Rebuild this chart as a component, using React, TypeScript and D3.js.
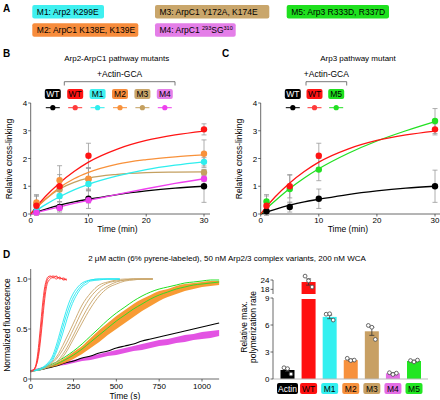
import React from 'react';
import * as d3 from 'd3';

const FONT = '"Liberation Sans", Arial, Helvetica, sans-serif';

// ---------- Panel A ----------
const mutantNames = ['M1', 'M2', 'M3', 'M4', 'M5'];
const mutantDesc = ['Arp2 K299E', 'ArpC1 K138E, K139E', 'ArpC1 Y172A, K174E', 'ArpC1 ', 'Arp3 R333D, R337D'];
const mutantBoxColors = ['#3ff0f0', '#f78c3c', '#c9a66b', '#e47ee8', '#1ee01e'];
const boxLayout = [
  { x: 32.3, y: 5, w: 71.7 },
  { x: 32.3, y: 23.3, w: 106 },
  { x: 155, y: 5, w: 114.3 },
  { x: 155, y: 23.3, w: 80.7 },
  { x: 286.7, y: 5, w: 102.3 },
];

// ---------- Panels B / C ----------
const tPts = [1, 5, 10, 30];
const tFit = [0, 1, 2.5, 5, 7.5, 10, 15, 20, 25, 30];

const wtPts = [0.1, 0.25, 0.55, 1.0];
const wtErr = [0.05, 0.18, 0.35, 0.58];
const wtFit = [0, 0.07, 0.17, 0.32, 0.44, 0.53, 0.7, 0.83, 0.93, 1.0];

const wtGcaPts = [0.3, 1.0, 2.1, 3.05];
const wtGcaErr = [0.35, 0.42, 0.45, 0.2];
const wtGcaFit = [0, 0.26, 0.62, 1.12, 1.53, 1.87, 2.34, 2.65, 2.85, 2.99];

const m1Pts = [0.12, 0.65, 1.08, 1.88];
const m1Err = [0.1, 0.2, 0.25, 0.15];
const m1Fit = [0, 0.13, 0.33, 0.62, 0.87, 1.07, 1.37, 1.6, 1.76, 1.88];

const m2Pts = [0.42, 1.22, 1.27, 2.17];
const m2Err = [0.28, 0.52, 0.4, 0.5];
const m2Fit = [0, 0.22, 0.52, 0.95, 1.27, 1.5, 1.8, 1.96, 2.06, 2.13];

const m3Pts = [0.35, 0.88, 1.25, 1.5];
const m3Err = [0.3, 0.3, 0.4, 0.1];
const m3Fit = [0, 0.23, 0.52, 0.9, 1.14, 1.29, 1.43, 1.49, 1.51, 1.52];

const m4Pts = [0.05, 0.22, 0.5, 1.27];
const m4Err = [0.05, 0.1, 0.1, 0.1];
const m4Fit = [0, 0.05, 0.13, 0.26, 0.38, 0.49, 0.71, 0.91, 1.1, 1.27];

const m5Pts = [0.45, 0.9, 1.6, 3.35];
const m5Err = [0.25, 0.5, 0.4, 0.45];
const m5Fit = [0, 0.2, 0.48, 0.92, 1.3, 1.63, 2.18, 2.63, 3.0, 3.33];

const C_BLACK = '#000000';
const C_RED = '#ff1414';
const C_CYAN = '#2eeeee';
const C_ORANGE = '#f8913a';
const C_TAN = '#c4a060';
const C_MAG = '#ee40ee';
const C_GREEN = '#22e022';

// ---------- Panel D (kinetics) ----------
const tLong = [0, 50, 100, 150, 200, 250, 300, 350, 400, 450, 500, 550, 600, 650, 700, 750, 800, 850, 900, 950, 1000, 1050, 1100];
const greenHi = [0.08, 0.1, 0.13, 0.17, 0.22, 0.28, 0.35, 0.43, 0.51, 0.59, 0.66, 0.72, 0.78, 0.83, 0.87, 0.9, 0.92, 0.94, 0.96, 0.97, 0.98, 0.99, 0.99];
const greenMid = [0.08, 0.09, 0.12, 0.15, 0.19, 0.24, 0.3, 0.37, 0.44, 0.51, 0.58, 0.64, 0.7, 0.75, 0.8, 0.84, 0.87, 0.9, 0.92, 0.94, 0.95, 0.96, 0.97];
const orangeLo = [0.08, 0.09, 0.11, 0.13, 0.16, 0.2, 0.25, 0.31, 0.37, 0.44, 0.5, 0.56, 0.62, 0.68, 0.73, 0.78, 0.82, 0.85, 0.88, 0.9, 0.92, 0.93, 0.94];
const orangeHi = [0.08, 0.1, 0.12, 0.16, 0.21, 0.27, 0.33, 0.41, 0.49, 0.56, 0.63, 0.69, 0.75, 0.8, 0.84, 0.88, 0.9, 0.93, 0.95, 0.96, 0.97, 0.98, 0.98];
const blackTrace = [0.08, 0.09, 0.11, 0.13, 0.16, 0.18, 0.21, 0.23, 0.26, 0.28, 0.31, 0.33, 0.35, 0.38, 0.4, 0.42, 0.44, 0.46, 0.48, 0.5, 0.52, 0.54, 0.56];
const magLo = [0.07, 0.09, 0.11, 0.13, 0.14, 0.16, 0.18, 0.19, 0.21, 0.23, 0.24, 0.26, 0.28, 0.29, 0.31, 0.33, 0.34, 0.36, 0.37, 0.39, 0.4, 0.41, 0.43];
const magHi = [0.09, 0.11, 0.13, 0.15, 0.17, 0.19, 0.21, 0.23, 0.25, 0.27, 0.29, 0.31, 0.33, 0.35, 0.37, 0.39, 0.4, 0.42, 0.44, 0.45, 0.47, 0.48, 0.49];

const tRed = [0, 20, 30, 40, 50, 60, 70, 80, 90, 100, 115, 130, 150, 170, 190, 210];
const red1 = [0.07, 0.09, 0.12, 0.2, 0.33, 0.5, 0.68, 0.84, 0.95, 1.0, 1.02, 1.03, 1.02, 1.01, 1.0, 0.99];
const red2 = [0.08, 0.1, 0.14, 0.24, 0.4, 0.58, 0.76, 0.9, 0.98, 1.02, 1.03, 1.01, 1.03, 1.0, 1.01, 0.99];
const red3 = [0.08, 0.1, 0.13, 0.18, 0.28, 0.43, 0.6, 0.77, 0.9, 0.97, 1.0, 1.02, 1.0, 1.02, 0.99, 1.0];

const tCyan = [0, 50, 100, 125, 150, 175, 200, 225, 250, 275, 300, 325, 350, 400, 450, 520];
const cyan1 = [0.08, 0.1, 0.16, 0.22, 0.34, 0.49, 0.64, 0.77, 0.86, 0.92, 0.96, 0.98, 0.99, 1.0, 1.0, 1.0];
const cyan2 = [0.08, 0.1, 0.15, 0.2, 0.3, 0.44, 0.59, 0.72, 0.82, 0.89, 0.94, 0.97, 0.99, 1.0, 1.0, 1.0];
const cyan3 = [0.08, 0.09, 0.14, 0.18, 0.27, 0.39, 0.53, 0.67, 0.78, 0.86, 0.92, 0.95, 0.98, 0.99, 1.0, 1.0];

const tTan = [0, 50, 100, 150, 200, 250, 300, 350, 400, 450, 500, 550, 600, 650, 713];
const tan1 = [0.08, 0.1, 0.14, 0.22, 0.38, 0.56, 0.74, 0.86, 0.94, 0.97, 0.99, 1.0, 1.0, 1.0, 1.0];
const tan2 = [0.08, 0.1, 0.13, 0.2, 0.33, 0.5, 0.68, 0.82, 0.91, 0.96, 0.98, 0.99, 1.0, 1.0, 1.0];
const tan3 = [0.08, 0.09, 0.12, 0.17, 0.28, 0.44, 0.61, 0.76, 0.87, 0.93, 0.97, 0.99, 1.0, 1.0, 1.0];
const tan4 = [0.08, 0.09, 0.12, 0.16, 0.25, 0.4, 0.56, 0.71, 0.83, 0.91, 0.95, 0.98, 0.99, 1.0, 1.0];

// ---------- Panel D (bars) ----------
const barCats = ['Actin', 'WT', 'M1', 'M2', 'M3', 'M4', 'M5'];
const barVals = [1.0, 22.7, 6.9, 2.1, 5.3, 0.63, 2.0];
const barErr = [0.15, 2.0, 0.2, 0.1, 0.45, 0.06, 0.08];
const barDots = [
  [1.25, 1.15, 0.55],
  [26.5, 23.5, 19.5],
  [7.2, 7.25, 6.55],
  [2.3, 2.05, 2.1],
  [5.95, 5.75, 4.4],
  [0.7, 0.5, 0.65],
  [2.05, 1.9, 2.1],
];
const barColors = ['#000000', '#ff1010', '#33f0f0', '#f7913d', '#c8a064', '#e46ee6', '#22e622'];
const barTextColors = ['#ffffff', '#000000', '#000000', '#000000', '#000000', '#000000', '#000000'];
const lowTicks = [0, 3, 6, 9];
const highTicks = [18, 24];

type Series = { color: string; pts: number[]; err: number[]; fit: number[] };
type LegendItem = { label: string; box: string; text: string; line: string };

function CrossPanel(props: {
  x0: number; x30: number; axEnd: number; series: Series[]; legend: LegendItem[];
  legendX0: number; legendStep: number; bracket: [number, number]; title: string; titleX: number;
  letter: string; letterX: number; ylabelX: number;
}) {
  const { x0, x30, axEnd, series, legend, legendX0, legendStep, bracket, title, titleX, letter, letterX, ylabelX } = props;
  const xs = d3.scaleLinear().domain([0, 30]).range([x0, x30]);
  const ys = d3.scaleLinear().domain([0, 4]).range([214, 103]);
  const line = d3.line<number>().x((_, i) => xs(tFit[i])).y(d => ys(d)).curve(d3.curveMonotoneX);
  return (
    <g>
      <text x={letterX} y={57} fontSize={10} fontWeight="bold">{letter}</text>
      <text x={titleX} y={61} fontSize={8} textAnchor="middle">{title}</text>
      <text x={(bracket[0] + bracket[1]) / 2} y={77} fontSize={8.5} textAnchor="middle">+Actin-GCA</text>
      <path d={`M${bracket[0]},85.5V81.7H${bracket[1]}V85.5`} fill="none" stroke="#555" strokeWidth={0.8} />
      {legend.map((l, i) => {
        const cx = legendX0 + i * legendStep;
        return (
          <g key={i}>
            <rect x={cx - 8} y={89} width={16} height={10} rx={2} fill={l.box} />
            <text x={cx} y={97.3} fontSize={8.5} textAnchor="middle" fill={l.text}>{l.label}</text>
            <line x1={cx - 7} x2={cx + 7} y1={107.7} y2={107.7} stroke={l.line} strokeWidth={1} />
            <circle cx={cx} cy={107.7} r={2.6} fill={l.line} />
          </g>
        );
      })}
      {/* axes */}
      <line x1={x0} x2={axEnd} y1={214} y2={214} stroke="#444" strokeWidth={0.8} />
      <line x1={x0} x2={x0} y1={214} y2={103} stroke="#444" strokeWidth={0.8} />
      {xs.ticks(3).map(t => (
        <g key={'x' + t}>
          <line x1={xs(t)} x2={xs(t)} y1={214} y2={216.5} stroke="#444" strokeWidth={0.8} />
          <text x={xs(t)} y={223} fontSize={8} textAnchor="middle">{t}</text>
        </g>
      ))}
      {ys.ticks(4).map(t => (
        <g key={'y' + t}>
          <line x1={x0 - 2.5} x2={x0} y1={ys(t)} y2={ys(t)} stroke="#444" strokeWidth={0.8} />
          <text x={x0 - 3.5} y={ys(t) + 3} fontSize={8} textAnchor="end">{t}</text>
        </g>
      ))}
      <text x={(x0 + x30) / 2} y={232} fontSize={8.5} textAnchor="middle">Time (min)</text>
      <text transform={`translate(${ylabelX},159) rotate(-90)`} fontSize={8.5} textAnchor="middle">Relative cross-linking</text>
      {/* error bars */}
      {series.map((s, si) => (
        <g key={'e' + si}>
          {tPts.map((t, i) => (
            <g key={i}>
              <line x1={xs(t)} x2={xs(t)} y1={ys(s.pts[i] - s.err[i])} y2={ys(s.pts[i] + s.err[i])} stroke="#999" strokeWidth={0.8} />
              <line x1={xs(t) - 2.5} x2={xs(t) + 2.5} y1={ys(s.pts[i] - s.err[i])} y2={ys(s.pts[i] - s.err[i])} stroke="#999" strokeWidth={0.8} />
              <line x1={xs(t) - 2.5} x2={xs(t) + 2.5} y1={ys(s.pts[i] + s.err[i])} y2={ys(s.pts[i] + s.err[i])} stroke="#999" strokeWidth={0.8} />
            </g>
          ))}
        </g>
      ))}
      {series.map((s, si) => (
        <path key={'f' + si} d={line(s.fit) || ''} fill="none" stroke={s.color} strokeWidth={1.3} />
      ))}
      {series.map((s, si) => (
        <g key={'p' + si}>
          {tPts.map((t, i) => (
            <circle key={i} cx={xs(t)} cy={ys(s.pts[i])} r={3.2} fill={s.color} />
          ))}
        </g>
      ))}
    </g>
  );
}

function Kinetics() {
  const xs = d3.scaleLinear().domain([0, 1000]).range([30.7, 202]);
  const ys = d3.scaleLinear().domain([0, 1]).range([379, 279]);
  const mk = (tArr: number[]) => d3.line<number>().x((_, i) => xs(tArr[i])).y(d => ys(d)).curve(d3.curveMonotoneX);
  const lineLong = mk(tLong);
  const area = (lo: number[], hi: number[]) =>
    d3.area<number>().x((_, i) => xs(tLong[i])).y0((_, i) => ys(lo[i])).y1(d => ys(d)).curve(d3.curveMonotoneX)(hi) || '';
  const yTickVals = [0, 0.5, 1];
  const yTickLabels = ['0', '0.5', '1.0'];
  return (
    <g>
      <path d={area(magLo, magHi)} fill="#e040e0" opacity={0.9} />
      <path d={lineLong(blackTrace) || ''} fill="none" stroke="#000" strokeWidth={1.1} />
      <path d={area(orangeLo, orangeHi)} fill="#f7901e" opacity={0.9} />
      <path d={lineLong(greenHi) || ''} fill="none" stroke={C_GREEN} strokeWidth={1} />
      <path d={lineLong(greenMid) || ''} fill="none" stroke={C_GREEN} strokeWidth={0.9} />
      {[tan1, tan2, tan3, tan4].map((d, i) => (
        <path key={'t' + i} d={mk(tTan)(d) || ''} fill="none" stroke="#c8a468" strokeWidth={0.9} />
      ))}
      {[cyan1, cyan2, cyan3].map((d, i) => (
        <path key={'c' + i} d={mk(tCyan)(d) || ''} fill="none" stroke="#22e8f0" strokeWidth={0.9} />
      ))}
      {[red1, red2, red3].map((d, i) => (
        <path key={'r' + i} d={mk(tRed)(d) || ''} fill="none" stroke="#ff3030" strokeWidth={0.9} />
      ))}
      <line x1={30.7} x2={xs(1100)} y1={379} y2={379} stroke="#444" strokeWidth={0.8} />
      <line x1={30.7} x2={30.7} y1={379} y2={ys(1.1)} stroke="#444" strokeWidth={0.8} />
      {[0, 250, 500, 750, 1000].map(t => (
        <g key={t}>
          <line x1={xs(t)} x2={xs(t)} y1={379} y2={381.5} stroke="#444" strokeWidth={0.8} />
          <text x={xs(t)} y={389} fontSize={8} textAnchor="middle">{t}</text>
        </g>
      ))}
      {yTickVals.map((v, i) => (
        <g key={v}>
          <line x1={28.2} x2={30.7} y1={ys(v)} y2={ys(v)} stroke="#444" strokeWidth={0.8} />
          <text x={27.5} y={ys(v) + 3} fontSize={8} textAnchor="end">{yTickLabels[i]}</text>
        </g>
      ))}
      <text x={(30.7 + 219) / 2} y={398.5} fontSize={8.5} textAnchor="middle">Time (s)</text>
      <text transform="translate(10,325) rotate(-90)" fontSize={8.5} textAnchor="middle">Normalized fluorescence</text>
    </g>
  );
}

function Bars() {
  const xp = d3.scalePoint<string>().domain(barCats).range([287.5, 414]);
  const yLow = d3.scaleLinear().domain([0, 9]).range([379, 298]);
  const yHigh = d3.scaleLinear().domain([15, 24]).range([294, 280]);
  const yAny = (v: number) => (v <= 9 ? yLow(v) : yHigh(v));
  const bw = 14;
  const dotOff = [-3.5, 0, 3.5];
  return (
    <g>
      {barCats.map((c, i) => {
        const cx = xp(c) as number;
        const v = barVals[i];
        const broken = v > 9;
        return (
          <g key={c}>
            {broken ? (
              <>
                <rect x={cx - bw / 2} y={yLow(9) + 1} width={bw} height={379 - yLow(9) - 1} fill={barColors[i]} />
                <rect x={cx - bw / 2} y={yHigh(v)} width={bw} height={294 - yHigh(v)} fill={barColors[i]} />
              </>
            ) : (
              <rect x={cx - bw / 2} y={yLow(v)} width={bw} height={379 - yLow(v)} fill={barColors[i]} />
            )}
            <line x1={cx} x2={cx} y1={yAny(v - barErr[i])} y2={yAny(v + barErr[i])} stroke="#333" strokeWidth={0.8} />
            <line x1={cx - 2.5} x2={cx + 2.5} y1={yAny(v - barErr[i])} y2={yAny(v - barErr[i])} stroke="#333" strokeWidth={0.8} />
            <line x1={cx - 2.5} x2={cx + 2.5} y1={yAny(v + barErr[i])} y2={yAny(v + barErr[i])} stroke="#333" strokeWidth={0.8} />
            {barDots[i].map((d, j) => (
              <circle key={j} cx={cx + dotOff[j]} cy={yAny(d)} r={1.9} fill="#fff" stroke="#444" strokeWidth={0.8} />
            ))}
            <rect x={cx - (i === 0 ? 10.5 : 8.5)} y={383} width={i === 0 ? 21 : 17} height={11} rx={2} fill={barColors[i]} />
            <text x={cx} y={391.8} fontSize={8.5} textAnchor="middle" fill={barTextColors[i]}>{c}</text>
          </g>
        );
      })}
      <line x1={273} x2={428} y1={379} y2={379} stroke="#bbb" strokeWidth={1} />
      <line x1={273} x2={273} y1={379} y2={298} stroke="#444" strokeWidth={0.8} />
      <line x1={273} x2={273} y1={294} y2={280} stroke="#444" strokeWidth={0.8} />
      {lowTicks.map(t => (
        <g key={'l' + t}>
          <line x1={270.5} x2={273} y1={yLow(t)} y2={yLow(t)} stroke="#444" strokeWidth={0.8} />
          <text x={269.5} y={yLow(t) + 3} fontSize={8} textAnchor="end">{t}</text>
        </g>
      ))}
      {highTicks.map(t => (
        <g key={'h' + t}>
          <line x1={270.5} x2={273} y1={yHigh(t)} y2={yHigh(t)} stroke="#444" strokeWidth={0.8} />
          <text x={269.5} y={yHigh(t) + 3} fontSize={8} textAnchor="end">{t}</text>
        </g>
      ))}
      <text transform="translate(246.5,327) rotate(-90)" fontSize={8.5} textAnchor="middle">Relative max.</text>
      <text transform="translate(255.5,327) rotate(-90)" fontSize={8.5} textAnchor="middle">polymerization rate</text>
    </g>
  );
}

export default function App() {
  const bSeries: Series[] = [
    { color: C_BLACK, pts: wtPts, err: wtErr, fit: wtFit },
    { color: C_TAN, pts: m3Pts, err: m3Err, fit: m3Fit },
    { color: C_ORANGE, pts: m2Pts, err: m2Err, fit: m2Fit },
    { color: C_CYAN, pts: m1Pts, err: m1Err, fit: m1Fit },
    { color: C_MAG, pts: m4Pts, err: m4Err, fit: m4Fit },
    { color: C_RED, pts: wtGcaPts, err: wtGcaErr, fit: wtGcaFit },
  ];
  const cSeries: Series[] = [
    { color: C_BLACK, pts: wtPts, err: wtErr, fit: wtFit },
    { color: C_GREEN, pts: m5Pts, err: m5Err, fit: m5Fit },
    { color: C_RED, pts: wtGcaPts, err: wtGcaErr, fit: wtGcaFit },
  ];
  const bLegend: LegendItem[] = [
    { label: 'WT', box: '#000', text: '#fff', line: C_BLACK },
    { label: 'WT', box: '#ff1414', text: '#000', line: '#ff3b3b' },
    { label: 'M1', box: mutantBoxColors[0], text: '#000', line: C_CYAN },
    { label: 'M2', box: mutantBoxColors[1], text: '#000', line: C_ORANGE },
    { label: 'M3', box: mutantBoxColors[2], text: '#000', line: C_TAN },
    { label: 'M4', box: mutantBoxColors[3], text: '#000', line: C_MAG },
  ];
  const cLegend: LegendItem[] = [
    { label: 'WT', box: '#000', text: '#fff', line: C_BLACK },
    { label: 'WT', box: '#ff1414', text: '#000', line: '#ff3b3b' },
    { label: 'M5', box: mutantBoxColors[4], text: '#000', line: C_GREEN },
  ];
  return (
    <svg width={440} height={400} style={{ position: 'absolute', left: 0, top: 0, fontFamily: FONT }}>
      <rect width={440} height={400} fill="#fff" />
      {/* Panel A */}
      <text x={3} y={12} fontSize={10} fontWeight="bold">A</text>
      {mutantNames.map((m, i) => {
        const b = boxLayout[i];
        return (
          <g key={m}>
            <rect x={b.x} y={b.y} width={b.w} height={13.4} rx={2} fill={mutantBoxColors[i]} />
            <text x={b.x + 4.5} y={b.y + 9.8} fontSize={8.5}>
              {m}: {mutantDesc[i]}
              {m === 'M4' ? (
                <>
                  <tspan fontSize={5.5} dy={-3.2}>293</tspan>
                  <tspan dy={3.2}>SG</tspan>
                  <tspan fontSize={5.5} dy={-3.2}>310</tspan>
                </>
              ) : null}
            </text>
          </g>
        );
      })}
      <CrossPanel x0={30.7} x30={204} axEnd={210} series={bSeries} legend={bLegend} legendX0={52.8} legendStep={22.4}
        bracket={[64.3, 175]} title="Arp2-ArpC1 pathway mutants" titleX={116.7} letter="B" letterX={3} ylabelX={12} />
      <CrossPanel x0={260.7} x30={435} axEnd={440} series={cSeries} legend={cLegend} legendX0={292.8} legendStep={21.7}
        bracket={[306, 346.7]} title="Arp3 pathway mutant" titleX={358} letter="C" letterX={222} ylabelX={242} />
      {/* Panel D */}
      <text x={3} y={258} fontSize={10} fontWeight="bold">D</text>
      <text x={227} y={261} fontSize={8} textAnchor="middle">2 μM actin (6% pyrene-labeled), 50 nM Arp2/3 complex variants, 200 nM WCA</text>
      <Kinetics />
      <Bars />
    </svg>
  );
}
